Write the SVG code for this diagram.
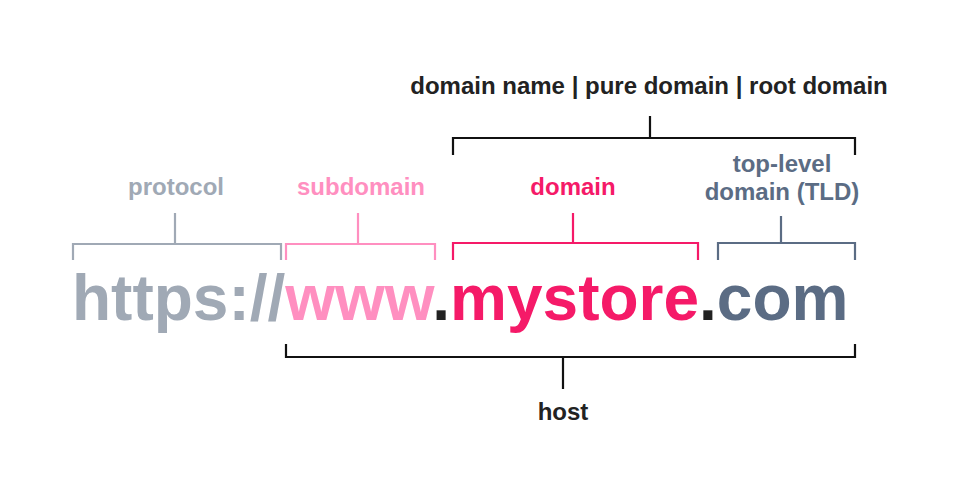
<svg xmlns="http://www.w3.org/2000/svg" width="972" height="488" viewBox="0 0 972 488">
<style>
text{font-family:"Liberation Sans",Arial,sans-serif;font-weight:bold}
.lbl{font-size:24px;text-anchor:middle}
.br{fill:none;stroke-width:2.2}
.gray{fill:#A0A9B5}.grayS{stroke:#A0A9B5}
.pink{fill:#FF8FC0}.pinkS{stroke:#FF8FC0}
.red{fill:#F51A68}.redS{stroke:#F51A68}
.slate{fill:#5B6C84}.slateS{stroke:#5B6C84}
.blk{fill:#222}.blkS{stroke:#111}
</style>
<rect width="972" height="488" fill="#fff"/>
<g id="url">
<text x="72" y="320" font-size="64"><tspan class="gray">https://</tspan><tspan class="pink">www</tspan><tspan class="blk">.</tspan><tspan class="red">mystore</tspan><tspan class="blk">.</tspan><tspan class="slate">com</tspan></text>
</g>
<g id="protocol"><text class="lbl gray" x="176" y="195">protocol</text></g>
<g id="subdomain"><text class="lbl pink" x="361" y="195">subdomain</text></g>
<g id="domain"><text class="lbl red" x="573" y="195">domain</text></g>
<g id="tld"><text class="lbl slate" x="782" y="172">top-level</text><text class="lbl slate" x="782" y="200">domain (TLD)</text></g>
<g id="domainname"><text class="lbl blk" x="649" y="94">domain name | pure domain | root domain</text></g>
<g id="host"><text class="lbl blk" x="563" y="420">host</text></g>
<g id="connectors">
<path class="br grayS" d="M73 260V244H281V260M175 244V213"/>
<path class="br pinkS" d="M286 260V244H435V260M358 244V213"/>
<path class="br redS" d="M453 260V243H698V260M573 243V213"/>
<path class="br slateS" d="M718 260V243H855V260M781 243V216"/>
<path class="br blkS" d="M453 155V138H855V155M650 138V116"/>
<path class="br blkS" d="M286 344V357H855V344M563 357V389"/>
</g>
</svg>
